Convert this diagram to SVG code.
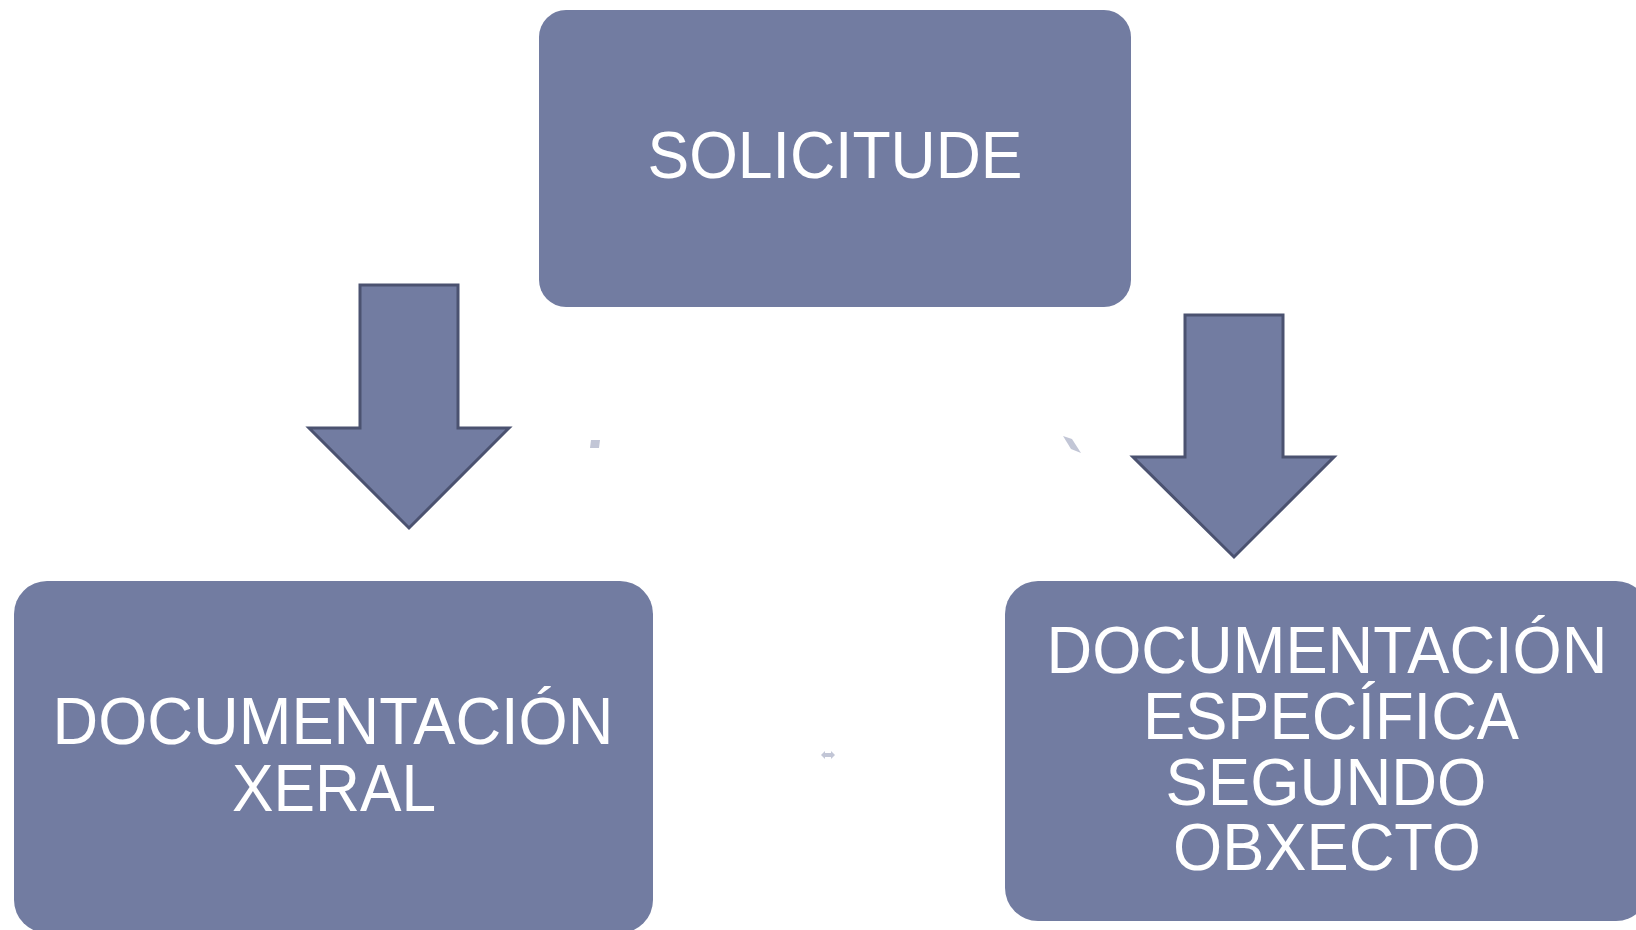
<svg xmlns="http://www.w3.org/2000/svg" width="1636" height="930" viewBox="0 0 1636 930">
<style>
.box{fill:#727ca1;}
.arrow{fill:#727ca1;stroke:#4b5270;stroke-width:3;stroke-linejoin:miter;}
.lbl{fill:#ffffff;font-family:"Liberation Sans",Arial,sans-serif;font-size:66px;text-anchor:middle;}
.mark{fill:#c2c6d6;}
</style>
<rect width="1636" height="930" fill="#ffffff"/>
<g id="solicitude">
<rect class="box" x="539" y="10" width="592" height="297" rx="27" ry="27"/>
<text class="lbl" x="835" y="178" textLength="375" lengthAdjust="spacingAndGlyphs">SOLICITUDE</text>
</g>
<g id="doc-xeral">
<rect class="box" x="14" y="581" width="639" height="352" rx="33" ry="33"/>
<text class="lbl" x="333" y="744" textLength="561" lengthAdjust="spacingAndGlyphs">DOCUMENTACIÓN</text>
<text class="lbl" x="334" y="811" textLength="204" lengthAdjust="spacingAndGlyphs">XERAL</text>
</g>
<g id="doc-especifica">
<rect class="box" x="1005" y="581" width="644" height="340" rx="33" ry="33"/>
<text class="lbl" x="1327" y="673" textLength="561" lengthAdjust="spacingAndGlyphs">DOCUMENTACIÓN</text>
<text class="lbl" x="1331" y="739" textLength="376" lengthAdjust="spacingAndGlyphs">ESPECÍFICA</text>
<text class="lbl" x="1326" y="805" textLength="321" lengthAdjust="spacingAndGlyphs">SEGUNDO</text>
<text class="lbl" x="1327" y="870" textLength="308" lengthAdjust="spacingAndGlyphs">OBXECTO</text>
</g>
<g id="connectors">
<path class="arrow" d="M360,285 H458 V428 H509 L409,528 L309,428 H360 Z"/>
<path class="arrow" d="M1185,315 H1283 V457 H1334 L1234,557 L1133,457 H1185 Z"/>
<polygon class="mark" points="591,440 600,440 599,448 590,448"/>
<polygon class="mark" points="1063,436 1072,439 1081,453 1071,449"/>
<polygon class="mark" points="821,755 825,751 825,753 831,753 831,751 835,755 831,759 831,757 825,757 825,759"/>
</g>
</svg>
